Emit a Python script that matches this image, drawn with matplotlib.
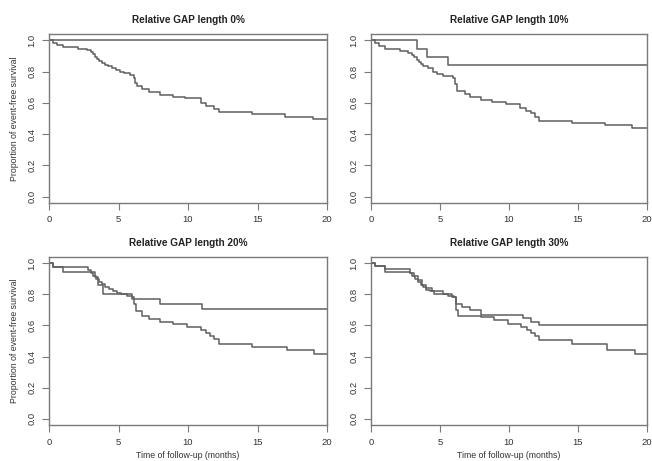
import matplotlib
matplotlib.use("Agg")
import matplotlib.pyplot as plt

plt.rcParams['font.family'] = ['Liberation Sans', 'DejaVu Sans']

titles = ["Relative GAP length 0%", "Relative GAP length 10%",
          "Relative GAP length 20%", "Relative GAP length 30%"]
x_ticks = [0, 5, 10, 15, 20]
y_ticks = [0.0, 0.2, 0.4, 0.6, 0.8, 1.0]
y_tick_labels = ["0.0", "0.2", "0.4", "0.6", "0.8", "1.0"]
xlabel = "Time of follow-up (months)"
ylabel = "Proportion of event-free survival"

# Panel 1 (0%)
p1_gap_t = [0, 20]
p1_gap_s = [1.0, 1.0]
p1_ref_t = [0, 0.3, 0.6, 1.0, 2.1, 2.7, 3.0, 3.15, 3.3, 3.45, 3.6, 3.8, 4.0, 4.25, 4.5, 4.8,
            5.1, 5.4, 5.8, 6.1, 6.2, 6.3, 6.7, 7.2, 8.0, 8.9, 9.8, 10.9, 11.3, 11.9, 12.2,
            14.6, 17.0, 19.0]
p1_ref_s = [1.0, 0.983, 0.97, 0.958, 0.947, 0.938, 0.925, 0.91, 0.895, 0.88, 0.868, 0.856,
            0.845, 0.835, 0.825, 0.812, 0.80, 0.79, 0.78, 0.76, 0.73, 0.705, 0.686, 0.67,
            0.65, 0.636, 0.63, 0.60, 0.579, 0.562, 0.543, 0.53, 0.511, 0.498]

# Panel 2 (10%)
p2_gap_t = [0, 3.3, 4.03, 5.6]
p2_gap_s = [1.0, 0.945, 0.895, 0.842]
p2_ref_t = [0, 0.3, 0.6, 1.05, 2.1, 2.7, 3.0, 3.15, 3.3, 3.45, 3.6, 3.8, 4.1, 4.5, 4.8,
            5.2, 5.95, 6.1, 6.25, 6.8, 7.2, 8.0, 8.8, 9.8, 10.8, 11.2, 11.6, 11.9, 12.16,
            14.55, 16.95, 18.9]
p2_ref_s = [1.0, 0.98, 0.965, 0.947, 0.932, 0.92, 0.905, 0.89, 0.875, 0.862, 0.85, 0.835,
            0.82, 0.797, 0.785, 0.771, 0.76, 0.72, 0.675, 0.654, 0.64, 0.617, 0.605, 0.59,
            0.568, 0.55, 0.536, 0.51, 0.487, 0.472, 0.457, 0.437]

# Panel 3 (20%)
p3_gap_t = [0, 0.3, 1.0, 3.3, 3.5, 3.9, 5.95, 8.0, 11.0]
p3_gap_s = [1.0, 0.976, 0.943, 0.91, 0.857, 0.80, 0.768, 0.736, 0.704]
p3_ref_t = [0, 0.3, 2.8, 3.0, 3.2, 3.4, 3.6, 3.8, 4.0, 4.3, 4.6, 4.9, 5.2, 5.6, 6.0, 6.1,
            6.25, 6.7, 7.2, 8.0, 8.9, 9.9, 10.9, 11.3, 11.6, 11.9, 12.2, 14.6, 17.1, 19.1]
p3_ref_s = [1.0, 0.976, 0.955, 0.94, 0.92, 0.9, 0.88, 0.865, 0.85, 0.835, 0.82, 0.81,
            0.80, 0.79, 0.78, 0.74, 0.69, 0.66, 0.64, 0.625, 0.61, 0.59, 0.57, 0.55, 0.53,
            0.51, 0.48, 0.46, 0.44, 0.415]

# Panel 4 (30%)
p4_gap_t = [0, 0.3, 1.0, 2.8, 3.1, 3.4, 3.7, 4.0, 4.4, 5.2, 5.9, 6.15, 6.6, 7.2, 8.0,
            11.0, 11.6, 12.2]
p4_gap_s = [1.0, 0.98, 0.96, 0.94, 0.92, 0.89, 0.86, 0.84, 0.82, 0.80, 0.78, 0.74,
            0.72, 0.70, 0.67, 0.645, 0.625, 0.606]
p4_ref_t = [0, 0.3, 1.0, 2.8, 3.0, 3.2, 3.4, 3.6, 3.8, 4.0, 4.3, 4.6, 5.0, 5.6, 6.0, 6.15,
            6.3, 8.0, 8.9, 9.9, 10.9, 11.3, 11.6, 11.9, 12.2, 14.6, 17.1, 19.1]
p4_ref_s = [1.0, 0.985, 0.945, 0.935, 0.92, 0.9, 0.88, 0.86, 0.845, 0.83, 0.82, 0.805,
            0.80, 0.79, 0.78, 0.70, 0.66, 0.655, 0.635, 0.61, 0.59, 0.57, 0.55, 0.53,
            0.505, 0.48, 0.445, 0.415]

panels = [
    (p1_gap_t, p1_gap_s, p1_ref_t, p1_ref_s),
    (p2_gap_t, p2_gap_s, p2_ref_t, p2_ref_s),
    (p3_gap_t, p3_gap_s, p3_ref_t, p3_ref_s),
    (p4_gap_t, p4_gap_s, p4_ref_t, p4_ref_s),
]

W, H = 652, 461
fig = plt.figure(figsize=(W / 100, H / 100), dpi=100)

boxes = [(49, 34, 327, 203), (371, 34, 647, 203),
         (49, 257, 327, 425), (371, 257, 647, 425)]

line_col = "#5f5f5f"
box_col = "#7a7a7a"
text_col = "#333333"

for i, ((l, t, r, b), (gt, gs, rt, rs)) in enumerate(zip(boxes, panels)):
    ax = fig.add_axes([l / W, 1 - b / H, (r - l) / W, (b - t) / H])
    for tt, ss in ((rt, rs), (gt, gs)):
        xs = list(tt) + [20]
        ys = list(ss) + [ss[-1]]
        ax.step(xs, ys, where="post", color=line_col, lw=1.1)
    ax.set_xlim(0, 20)
    ax.set_ylim(-0.04, 1.04)
    ax.set_xticks(x_ticks)
    ax.set_xticklabels([str(v) for v in x_ticks])
    ax.set_yticks(y_ticks)
    ax.set_yticklabels(y_tick_labels, rotation=90, va="center")
    ax.tick_params(direction="out", length=5, width=0.8, color=box_col,
                   labelsize=6.8, labelcolor=text_col, pad=4)
    for sp in ax.spines.values():
        sp.set_color(box_col)
        sp.set_linewidth(1.0)
    ax.set_title(titles[i], fontsize=7.2, fontweight="bold", color="#222222", pad=8)
    if i in (0, 2):
        ax.set_ylabel(ylabel, fontsize=6.3, color=text_col, labelpad=6)
    if i in (2, 3):
        ax.set_xlabel(xlabel, fontsize=6.3, color=text_col, labelpad=3)

fig.savefig("out.png", dpi=100, facecolor="white")
